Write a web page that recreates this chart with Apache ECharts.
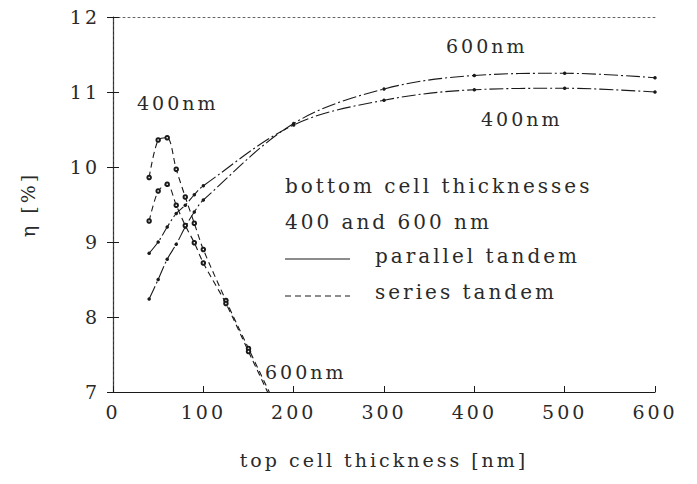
<!DOCTYPE html>
<html><head><meta charset="utf-8">
<script src="https://cdn.jsdelivr.net/npm/echarts@6/dist/echarts.min.js"></script>
<style>
html,body{margin:0;padding:0;background:#fff;}
#c{width:697px;height:484px;}
#c text{letter-spacing:3px;}
</style></head>
<body><div id="c"></div>
<script>
// ---- data ----
const xTicks = [0, 100, 200, 300, 400, 500, 600];
const yTicks = [7, 8, 9, 10, 11, 12];

const par600X = [40, 50, 60, 70, 80, 90, 100, 200, 300, 400, 500, 600];
const par600Y = [8.24, 8.5, 8.77, 8.97, 9.2, 9.4, 9.56, 10.58, 11.04, 11.22, 11.25, 11.19];

const par400X = [40, 50, 60, 70, 80, 90, 100, 200, 300, 400, 500, 600];
const par400Y = [8.85, 9.0, 9.2, 9.38, 9.49, 9.63, 9.75, 10.56, 10.89, 11.03, 11.05, 11.0];

const ser400X = [40, 50, 60, 70, 80, 90, 100, 125, 150, 175];
const ser400Y = [9.86, 10.36, 10.39, 9.97, 9.6, 9.25, 8.9, 8.22, 7.58, 6.95];

const ser600X = [40, 50, 60, 70, 80, 90, 100, 125, 150, 175];
const ser600Y = [9.28, 9.68, 9.77, 9.49, 9.22, 8.99, 8.72, 8.18, 7.54, 6.9];

const annotations = [
  {text: '400nm', x: 137, y: 103},
  {text: '600nm', x: 446, y: 46},
  {text: '400nm', x: 481, y: 119},
  {text: '600nm', x: 265, y: 372}
];
const legendLines = [
  {text: 'bottom cell thicknesses', x: 285, y: 186},
  {text: '400 and 600 nm', x: 285, y: 222},
  {text: 'parallel tandem', x: 375, y: 256},
  {text: 'series tandem', x: 375, y: 292}
];

const zip = (xs, ys) => xs.map((x, i) => [x, ys[i]]);
const FONT = '"DejaVu Serif", serif';
const INK = '#1a1a1a';
const TXT = '#2a2a2a';

const parStyle = {color: INK, width: 1.1, type: [14, 3, 2, 3]};
const serStyle = {color: INK, width: 1.1, type: [6, 4]};

const chart = echarts.init(document.getElementById('c'), null, {renderer: 'svg'});
const graphic = [];
annotations.forEach(a => {
  graphic.push({type: 'text', x: a.x, y: a.y, silent: true,
    style: {text: a.text, fill: TXT, font: '19px ' + FONT, textVerticalAlign: 'middle'}});
});
legendLines.forEach(a => {
  graphic.push({type: 'text', x: a.x, y: a.y, silent: true,
    style: {text: a.text, fill: TXT, font: '20px ' + FONT, textVerticalAlign: 'middle'}});
});
graphic.push({type: 'line', shape: {x1: 285, y1: 259, x2: 350, y2: 259}, style: {stroke: INK, lineWidth: 1.1}});
graphic.push({type: 'line', shape: {x1: 285, y1: 296, x2: 350, y2: 296}, style: {stroke: INK, lineWidth: 1.1, lineDash: [6, 4]}});

chart.setOption({
  animation: false,
  backgroundColor: '#fff',
  grid: {left: 113, right: 42, top: 17, bottom: 92},
  xAxis: [{
    type: 'value', min: xTicks[0], max: xTicks[xTicks.length - 1], interval: 100,
    name: 'top cell thickness [nm]', nameLocation: 'middle', nameGap: 58,
    nameTextStyle: {fontFamily: FONT, fontSize: 19, color: TXT},
    axisLine: {lineStyle: {color: INK, width: 1.2}},
    axisTick: {inside: true, length: 6, lineStyle: {color: INK}},
    axisLabel: {fontFamily: FONT, fontSize: 19, color: TXT, margin: 10},
    splitLine: {show: false}
  }, {
    type: 'value', position: 'top', min: 0, max: 600, interval: 100,
    axisLine: {show: true, lineStyle: {color: '#666', width: 1, type: [2, 3]}},
    axisTick: {show: false}, axisLabel: {show: false}, splitLine: {show: false}
  }],
  yAxis: [{
    type: 'value', min: yTicks[0], max: yTicks[yTicks.length - 1], interval: 1,
    name: 'η [%]', nameLocation: 'middle', nameGap: 76,
    nameTextStyle: {fontFamily: FONT, fontSize: 19, color: TXT},
    axisLine: {show: true, lineStyle: {color: INK, width: 1.2}},
    axisTick: {show: true, inside: true, length: 6, lineStyle: {color: INK}},
    axisLabel: {fontFamily: FONT, fontSize: 19, color: TXT, margin: 13},
    splitLine: {show: false}
  }, {
    type: 'value', position: 'right', min: 7, max: 12, interval: 1,
    axisLine: {show: true, lineStyle: {color: '#444', width: 1, type: [3, 2]}},
    axisTick: {show: true, inside: true, length: 6, lineStyle: {color: INK}},
    axisLabel: {show: false}, splitLine: {show: false}
  }],
  series: [
    {type: 'line', name: 'parallel 600nm', data: zip(par600X, par600Y), smooth: 0.35,
     symbol: 'circle', symbolSize: 3.5, itemStyle: {color: INK}, lineStyle: parStyle},
    {type: 'line', name: 'parallel 400nm', data: zip(par400X, par400Y), smooth: 0.35,
     symbol: 'circle', symbolSize: 3.5, itemStyle: {color: INK}, lineStyle: parStyle},
    {type: 'line', name: 'series 400nm', data: zip(ser400X, ser400Y), smooth: 0.3,
     symbol: 'emptyCircle', symbolSize: 3.5, itemStyle: {color: INK, borderColor: INK, borderWidth: 1.1}, lineStyle: serStyle},
    {type: 'line', name: 'series 600nm', data: zip(ser600X, ser600Y), smooth: 0.3,
     symbol: 'emptyCircle', symbolSize: 3.5, itemStyle: {color: INK, borderColor: INK, borderWidth: 1.1}, lineStyle: serStyle}
  ],
  graphic: graphic
});
</script></body></html>
